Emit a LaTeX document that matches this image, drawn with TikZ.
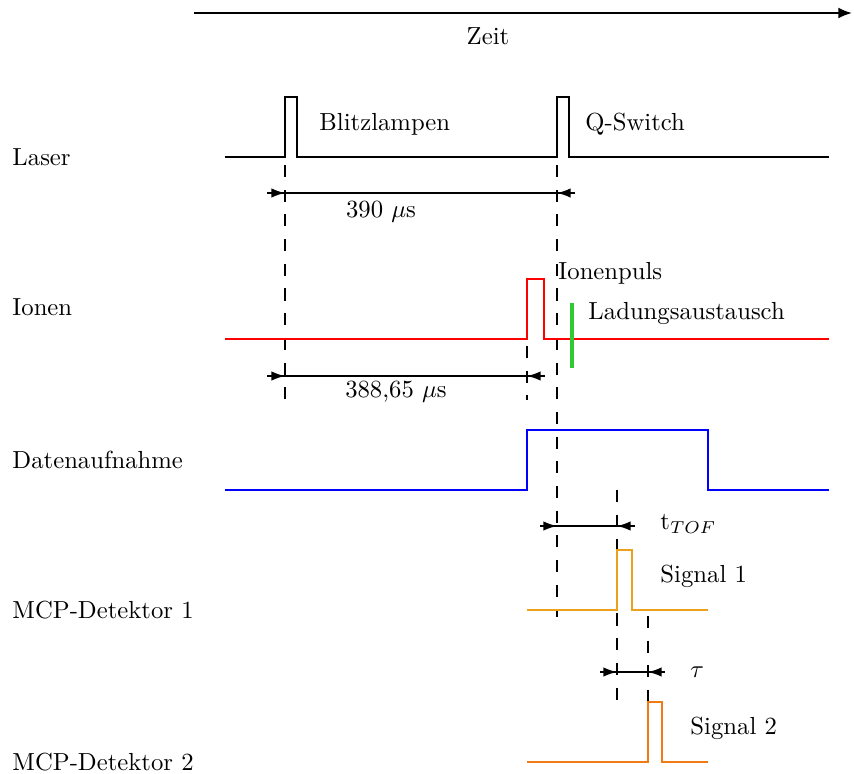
\documentclass[tikz,border=0pt]{standalone}
\usetikzlibrary{arrows.meta}
\definecolor{mcpone}{RGB}{236,160,30}
\definecolor{mcptwo}{RGB}{240,122,20}
\definecolor{ldgreen}{RGB}{50,200,50}
\begin{document}
\begin{tikzpicture}[x=0.405pt,y=-0.405pt,
  sig/.style={line width=0.6pt},
  dline/.style={line width=0.6pt, dash pattern=on 4.9pt off 5.1pt},
  dim/.style={line width=0.6pt},
  tip/.style={line width=0.6pt,-{Latex[length=5.5pt,width=3.8pt]}},
  lab/.style={anchor=west, inner sep=0pt, font=\fontsize{10}{12}\selectfont}
]
\useasboundingbox (0,0) rectangle (854,774);
% time axis
\coordinate (t0) at (194,13);
\coordinate (t1) at (852,13);
\draw[line width=0.8pt,-{Latex[length=5.5pt,width=4.4pt]}] (t0) -- (t1);
\node[lab,anchor=center] (zeit) at (488,36) {Zeit};

% row labels
\node[lab] (llaser) at (12,157) {Laser};
\node[lab] (lionen) at (12,307) {Ionen};
\node[lab] (ldaten) at (12,460) {Datenaufnahme};
\node[lab] (lmcp1) at (12,610) {MCP-Detektor 1};
\node[lab] (lmcp2) at (12,762) {MCP-Detektor 2};

% dashed guides
\draw[dline] (285,165) -- (285,400);
\draw[dline] (557,165) -- (557,617);
\draw[dline] (527,346) -- (527,400);
\draw[dline] (617,490) -- (617,702);
\draw[dline] (648,616) -- (648,702);

% Laser
\draw[sig] (225,157) -- (285,157) -- (285,97) -- (297,97) -- (297,157) -- (557,157) -- (557,97) -- (569,97) -- (569,157) -- (829,157);
\node[lab] (blitz) at (319,124) {Blitzlampen};
\node[lab] (qsw) at (585,124) {Q-Switch};

% 390 us
\draw[dim] (267,193) -- (575,193);
\draw[tip] (267,193) -- (285,193);
\draw[tip] (575,193) -- (557,193);
\node[lab,anchor=center] (d390) at (381,212) {390 $\mu$s};

% Ionen
\draw[sig,red] (225,339) -- (527,339) -- (527,279) -- (544,279) -- (544,339) -- (829,339);
\draw[line width=1.4pt,ldgreen] (572,303) -- (572,368);
\node[lab] (ipuls) at (558,273) {Ionenpuls};
\node[lab] (ladung) at (588,313) {Ladungsaustausch};

% 388,65 us
\draw[dim] (267,376) -- (545,376);
\draw[tip] (267,376) -- (285,376);
\draw[tip] (545,376) -- (527,376);
\node[lab,anchor=center] (d388) at (396,392) {388,65 $\mu$s};

% Datenaufnahme
\draw[sig,blue] (225,490) -- (527,490) -- (527,430) -- (708,430) -- (708,490) -- (829,490);

% tTOF
\draw[dim] (540,526) -- (635,526);
\draw[tip] (540,526) -- (557,526);
\draw[tip] (635,526) -- (617,526);
\node[lab] (ttof) at (660,524) {t$_{TOF}$};

% MCP 1
\draw[sig,mcpone] (527,610) -- (617,610) -- (617,550) -- (632,550) -- (632,610) -- (708,610);
\node[lab] (sig1) at (660,576) {Signal 1};

% tau
\draw[dim] (600,672) -- (665,672);
\draw[tip] (600,672) -- (617,672);
\draw[tip] (665,672) -- (648,672);
\node[lab] (tau) at (690,672) {$\tau$};

% MCP 2
\draw[sig,mcptwo] (527,762) -- (648,762) -- (648,702) -- (662,702) -- (662,762) -- (708,762);
\node[lab] (sig2) at (690,728) {Signal 2};
\end{tikzpicture}
\end{document}
